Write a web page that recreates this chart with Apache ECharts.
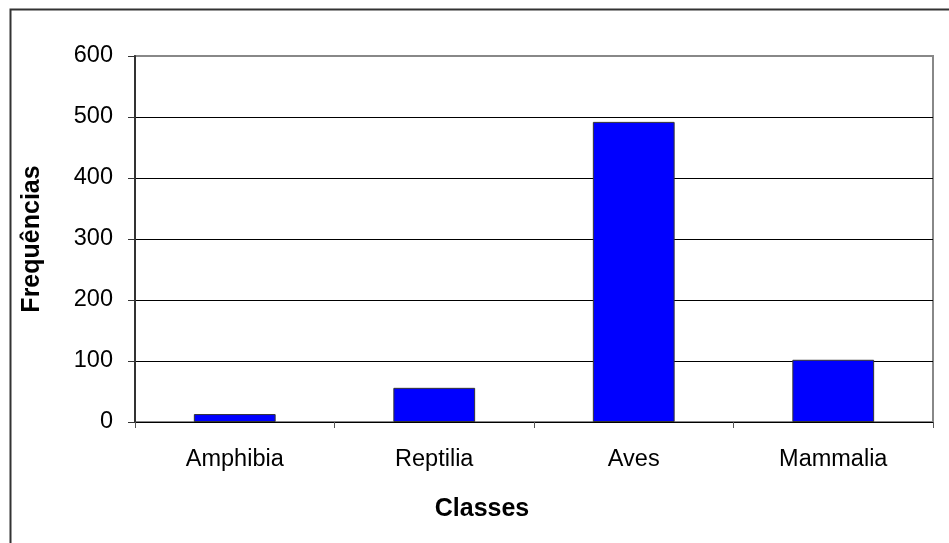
<!DOCTYPE html>
<html><head><meta charset="utf-8">
<script src="https://cdn.jsdelivr.net/npm/echarts@6/dist/echarts.min.js"></script>
<style>html,body{margin:0;padding:0;background:#fff}#c{width:949px;height:543px}</style>
</head><body><div id="c"></div>
<script>
const categories = ['Amphibia', 'Reptilia', 'Aves', 'Mammalia'];
const frequencies = [13, 56, 492, 102];
const yTicks = [0, 100, 200, 300, 400, 500, 600];
const xTitle = 'Classes';
const yTitle = 'Frequências';

const chart = echarts.init(document.getElementById('c'));
const font = 'Liberation Sans, Arial, sans-serif';
chart.setOption({
  animation: false,
  backgroundColor: '#fff',
  grid: { left: 135, right: 16, top: 56, bottom: 121, show: true, borderColor: '#888', borderWidth: 2 },
  xAxis: {
    type: 'category', data: categories,
    axisLine: { lineStyle: { color: '#000', width: 1 } },
    axisTick: { show: true, length: 6, lineStyle: { color: '#555' } },
    axisLabel: { color: '#000', fontSize: 23.5, fontFamily: font, margin: 26 }
  },
  yAxis: {
    type: 'value', min: yTicks[0], max: yTicks[yTicks.length - 1], interval: 100,
    axisLine: { show: true, lineStyle: { color: '#333', width: 2 } },
    axisTick: { show: true, length: 7, lineStyle: { color: '#333' } },
    axisLabel: { color: '#000', fontSize: 23.5, fontFamily: font, margin: 22 },
    splitLine: { show: true, lineStyle: { color: ['#000', '#000', '#000', '#000', '#000', '#000', '#888'], width: 1 } }
  },
  series: [{
    type: 'bar', data: frequencies, barWidth: '41%',
    itemStyle: { color: '#0000ff', borderColor: '#333', borderWidth: 1 }
  }],
  graphic: [
    { type: 'rect', left: 8, top: 7, shape: { x: 0, y: 0, width: 1000, height: 600 }, style: { fill: 'none', stroke: '#333', lineWidth: 2 }, silent: true, z: -10 },
    { type: 'text', x: 482, y: 509, style: { text: xTitle, fontSize: 25, fontWeight: 'bold', fontFamily: font, fill: '#000', textAlign: 'center', textVerticalAlign: 'middle' } },
    { type: 'text', x: 32, y: 239, rotation: Math.PI / 2, style: { text: yTitle, fontSize: 25, fontWeight: 'bold', fontFamily: font, fill: '#000', textAlign: 'center', textVerticalAlign: 'middle' } }
  ]
});
</script></body></html>
